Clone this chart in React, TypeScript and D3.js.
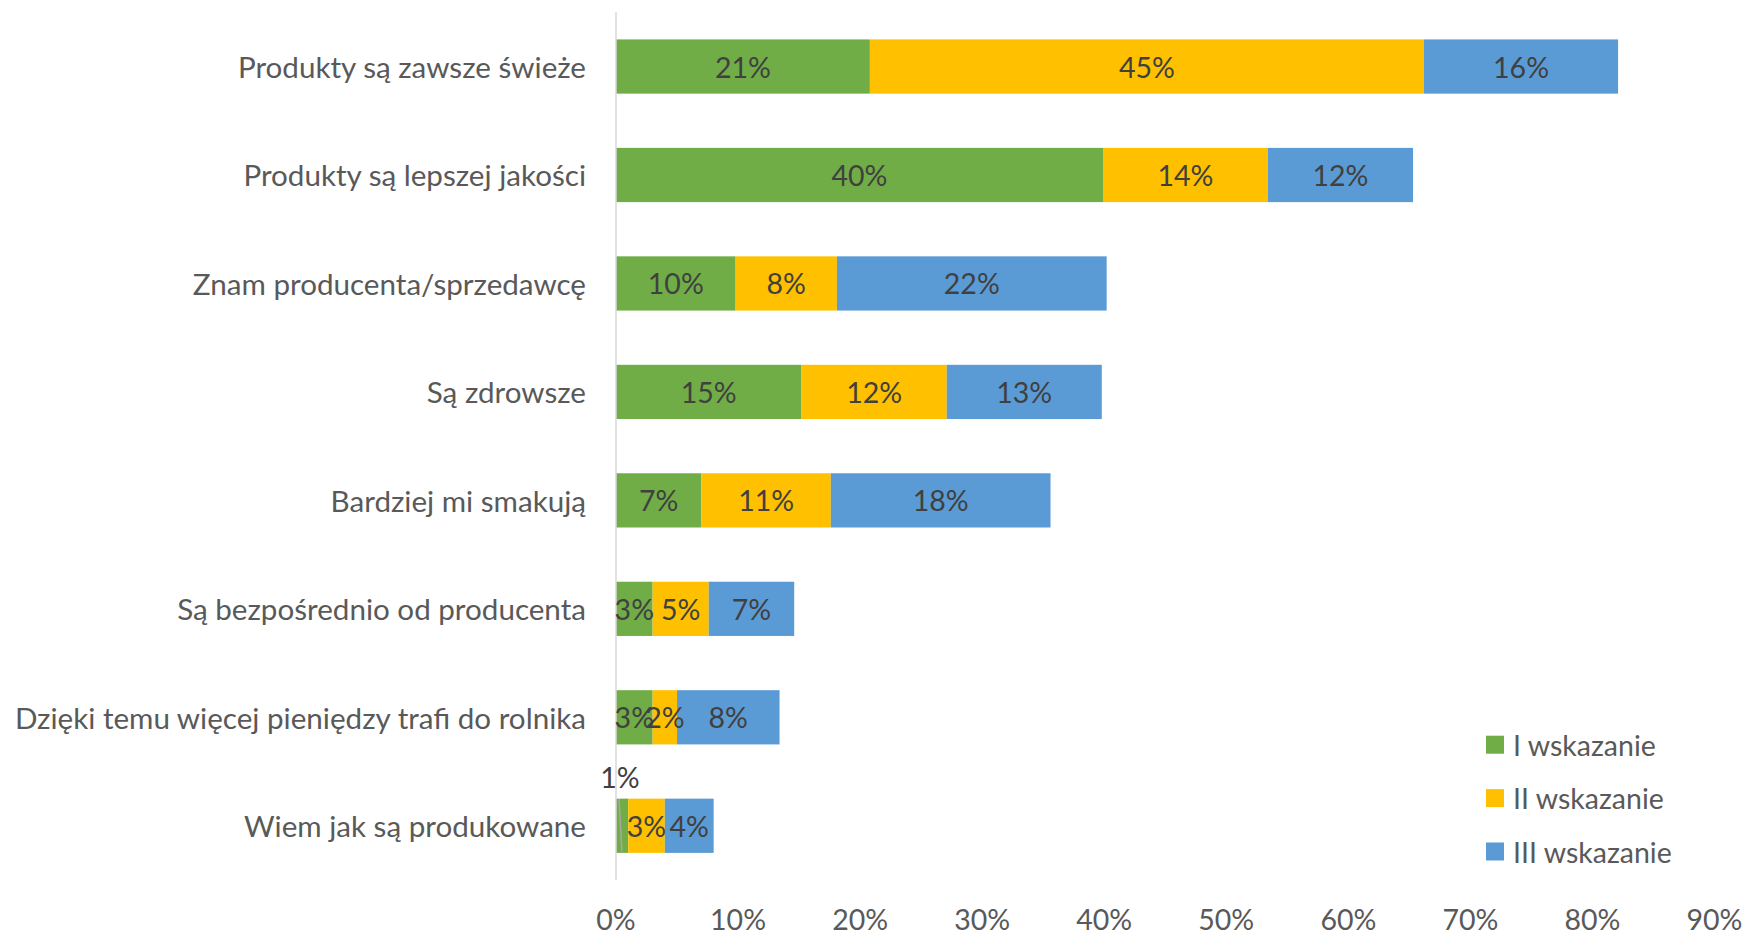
import React from "react";
import * as d3 from "d3";

const categories = [
  "Produkty są zawsze świeże",
  "Produkty są lepszej jakości",
  "Znam producenta/sprzedawcę",
  "Są zdrowsze",
  "Bardziej mi smakują",
  "Są bezpośrednio od producenta",
  "Dzięki temu więcej pieniędzy trafi do rolnika",
  "Wiem jak są produkowane",
];
const seriesNames = ["I wskazanie", "II wskazanie", "III wskazanie"];
const seriesI = [20.8, 39.9, 9.8, 15.2, 7.0, 3.0, 3.0, 1.0];
const seriesII = [45.4, 13.5, 8.3, 11.9, 10.6, 4.6, 2.0, 3.0];
const seriesIII = [15.9, 11.9, 22.1, 12.7, 18.0, 7.0, 8.4, 4.0];
const xTicks = [0, 10, 20, 30, 40, 50, 60, 70, 80, 90];
const colors = ["#70AD47", "#FFC000", "#5B9BD5"];

const W = 1744;
const H = 934;
const FONT = "Lato, 'Open Sans', sans-serif";
const FS_CAT = 29.6;
const FS = 28.5;

export default function App() {
  const x = d3.scaleLinear().domain([0, 90]).range([616, 1714.5]);
  const y = d3
    .scaleBand<string>()
    .domain(categories)
    .range([12.3, 880])
    .paddingInner(0.5)
    .paddingOuter(0.25);

  const rows = categories.map((c, i) => ({
    cat: c,
    I: seriesI[i],
    II: seriesII[i],
    III: seriesIII[i],
  }));
  const stack = d3.stack<any>().keys(["I", "II", "III"])(rows);

  const bw = y.bandwidth();

  return (
    <svg
      width={W}
      height={H}
      style={{ position: "absolute", left: 0, top: 0, background: "#fff" }}
      fontFamily={FONT}
    >
      <rect x={0} y={0} width={W} height={H} fill="#fff" />
      {/* bars */}
      {stack.map((layer, si) => (
        <g key={si}>
          {layer.map((d, i) => {
            const cat = categories[i];
            const x0 = x(d[0]);
            const x1 = x(d[1]);
            return (
              <rect
                key={i}
                x={x0}
                y={y(cat)!}
                width={x1 - x0}
                height={bw}
                fill={colors[si]}
              />
            );
          })}
        </g>
      ))}
      {/* axis line */}
      <line
        x1={x(0)}
        x2={x(0)}
        y1={12.3}
        y2={880}
        stroke="#D9D9D9"
        strokeWidth={1.5}
      />
      {/* data labels */}
      {stack.map((layer, si) => (
        <g key={"l" + si}>
          {layer.map((d, i) => {
            const cat = categories[i];
            const v = d[1] - d[0];
            const cy = y(cat)! + bw / 2;
            const cx = (x(d[0]) + x(d[1])) / 2;
            const label = Math.round(v) + "%";
            if (v < 2) {
              // outside label with leader line
              return (
                <g key={i}>
                  <line
                    x1={x(0) + 3}
                    y1={y(cat)! + 0.5}
                    x2={x(0) + 6}
                    y2={y(cat)! + bw - 1}
                    stroke="#A6A6A6"
                    strokeWidth={1.5}
                  />
                  <text
                    x={x(0) + 4}
                    y={y(cat)! - 22}
                    textAnchor="middle"
                    dominantBaseline="central"
                    fontSize={FS}
                    fill="#404040"
                  >
                    {label}
                  </text>
                </g>
              );
            }
            return (
              <text
                key={i}
                x={cx}
                y={cy}
                textAnchor="middle"
                dominantBaseline="central"
                fontSize={FS}
                fill="#404040"
              >
                {label}
              </text>
            );
          })}
        </g>
      ))}
      {/* category labels */}
      {categories.map((c) => (
        <text
          key={c}
          x={586}
          y={y(c)! + bw / 2}
          textAnchor="end"
          dominantBaseline="central"
          fontSize={FS_CAT}
          fill="#595959"
        >
          {c}
        </text>
      ))}
      {/* x tick labels */}
      {xTicks.map((t) => (
        <text
          key={t}
          x={x(t)}
          y={930}
          textAnchor="middle"
          fontSize={FS}
          fill="#595959"
        >
          {t + "%"}
        </text>
      ))}
      {/* legend */}
      {seriesNames.map((s, i) => {
        const cy = 744.7 + i * 53.4;
        return (
          <g key={s}>
            <rect x={1486} y={cy - 9} width={18} height={18} fill={colors[i]} />
            <text
              x={1513}
              y={cy}
              dominantBaseline="central"
              fontSize={FS}
              fill="#595959"
            >
              {s}
            </text>
          </g>
        );
      })}
    </svg>
  );
}
